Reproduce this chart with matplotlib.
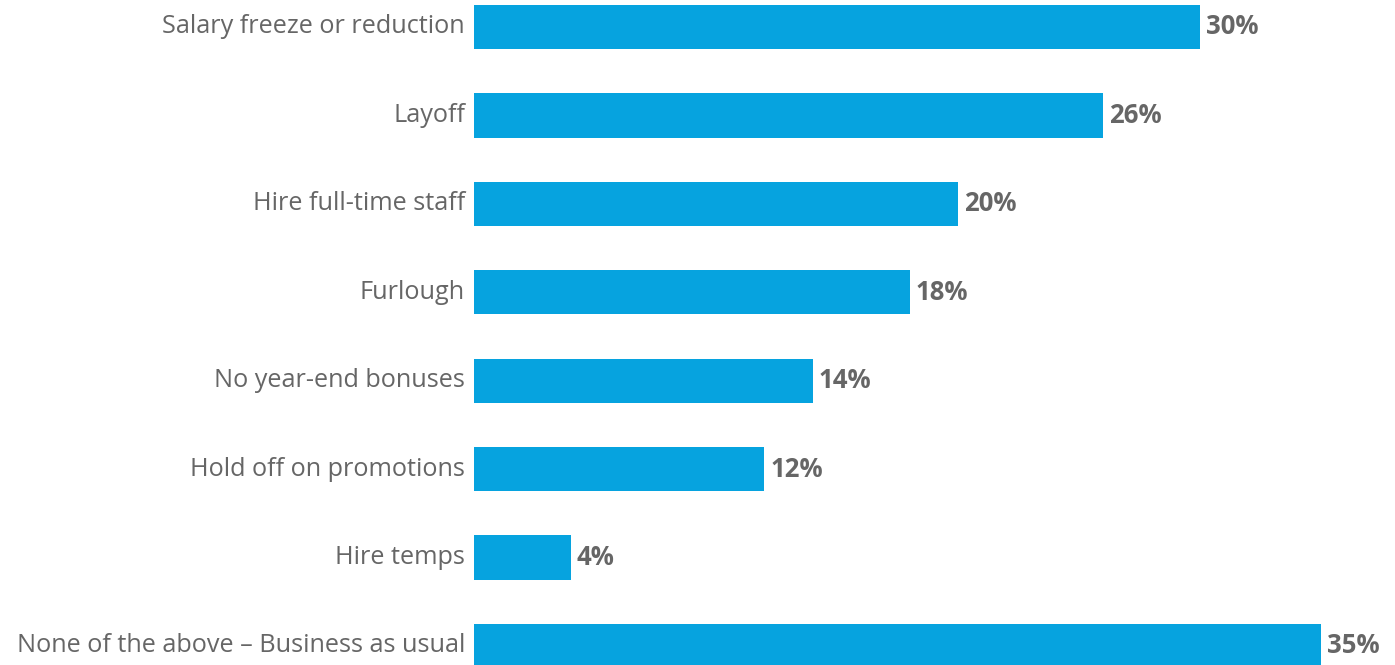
import matplotlib
matplotlib.use('Agg')
from matplotlib import pyplot as plt
from matplotlib import transforms

categorias = ['Salary freeze or reduction', 'Layoff', 'Hire full-time staff', 'Furlough',
              'No year-end bonuses', 'Hold off on promotions', 'Hire temps',
              'None of the above \u2013 Business as usual']
valores = [30, 26, 20, 18, 14, 12, 4, 35]
etiquetas = ['30%', '26%', '20%', '18%', '14%', '12%', '4%', '35%']

azul = '#06a3df'
gris = '#666666'
plt.rcParams['font.family'] = ['Open Sans', 'DejaVu Sans']

fig = plt.figure(figsize=(13.95, 6.65), dpi=100)
ax = fig.add_axes([474/1395, 0, 1 - 474/1395, 1])

pos = range(len(valores))
ax.barh(pos, valores, height=0.5, color=azul, edgecolor='none')
for p, v, t in zip(pos, valores, etiquetas):
    ax.text(v + 0.25, p, t, va='center', ha='left', fontsize=18.5, fontweight='bold', color=gris)

# nombres de categoria a la izquierda de cada barra
trans = ax.get_yaxis_transform() + transforms.ScaledTranslation(-9/100, 0, fig.dpi_scale_trans)
for p, c in zip(pos, categorias):
    ax.text(0, p, c, transform=trans, ha='right', va='center', fontsize=18.2, color=gris)

ax.set_xlim(0, 921/24.2)
ax.set_ylim(7.215, -0.305)
ax.set_yticks([])
ax.set_xticks([])
for s in ax.spines.values():
    s.set_visible(False)

plt.savefig('out.png', dpi=100)
